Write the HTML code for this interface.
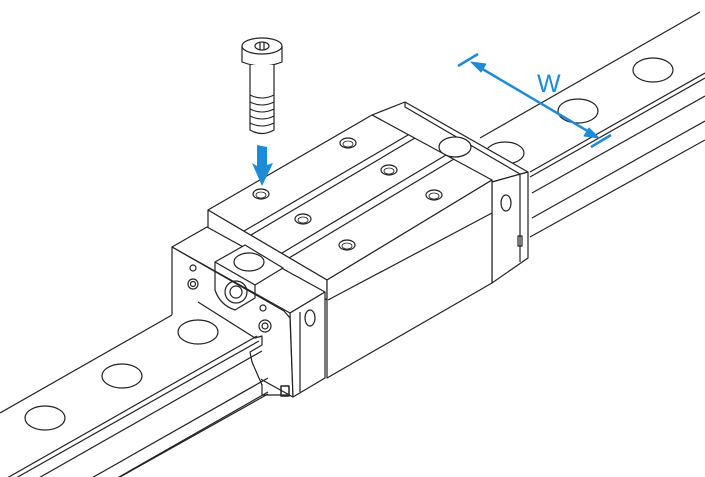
<!DOCTYPE html>
<html><head><meta charset="utf-8"><style>
html,body{margin:0;padding:0;background:#fff;width:705px;height:477px;overflow:hidden}
svg{display:block}
</style></head><body>
<svg width="705" height="477" viewBox="0 0 705 477" xmlns="http://www.w3.org/2000/svg" fill="none" stroke="#222" stroke-width="1.2" stroke-linejoin="round">
<!-- rail right part -->
<line x1="480" y1="138" x2="700" y2="12"/>
<line x1="530" y1="172" x2="705" y2="73"/>
<line x1="530" y1="177" x2="705" y2="78"/>
<line x1="532" y1="193" x2="705" y2="96"/>
<line x1="532" y1="218" x2="705" y2="121"/>
<line x1="530" y1="237" x2="705" y2="140"/>
<ellipse cx="578" cy="111" rx="20" ry="12"/>
<ellipse cx="653" cy="70" rx="20" ry="12"/>
<ellipse cx="505" cy="153" rx="19" ry="11"/>
<!-- back plate -->
<polygon fill="#fff" points="372,115 405,102 528,172 492,182"/>
<polygon fill="#fff" points="492,182 528,172 528,258 492,283"/>
<polyline points="405,102 405,107 520,174 520,262"/>
<ellipse cx="455" cy="147" rx="16" ry="10" fill="#fff"/>
<polygon fill="#fff" stroke="none" points="372,115 492,182 420,160"/>
<line x1="372" y1="115" x2="492" y2="182"/>
<ellipse cx="506" cy="203" rx="5" ry="8"/>
<rect x="518" y="236" width="4" height="10"/>
<!-- main body -->
<polygon fill="#fff" points="208,210 372,115 492,180 327,280"/>
<polygon fill="#fff" points="208,210 327,280 327,300 208,228"/>
<polygon fill="#fff" points="327,280 492,180 492,283 327,378"/>
<line x1="328" y1="300" x2="492" y2="213"/>
<line x1="244" y1="231" x2="408" y2="135"/>
<line x1="251" y1="235" x2="415" y2="138"/>
<line x1="282" y1="253" x2="446" y2="155"/>
<line x1="289" y1="258" x2="454" y2="159"/>
<g fill="#fff">
<ellipse cx="261" cy="194" rx="8" ry="5"/><ellipse cx="348" cy="143" rx="8" ry="5"/>
<ellipse cx="389" cy="170" rx="8" ry="5"/><ellipse cx="303" cy="219" rx="8" ry="5"/>
<ellipse cx="434" cy="195" rx="8" ry="5"/><ellipse cx="347" cy="245" rx="8" ry="5"/>
</g>
<g stroke-width="0.8">
<ellipse cx="261" cy="195" rx="5" ry="3"/><ellipse cx="348" cy="144" rx="5" ry="3"/>
<ellipse cx="389" cy="171" rx="5" ry="3"/><ellipse cx="303" cy="220" rx="5" ry="3"/>
<ellipse cx="434" cy="196" rx="5" ry="3"/><ellipse cx="347" cy="246" rx="5" ry="3"/>
</g>
<!-- end plate -->
<polygon fill="#fff" points="172,247 207,227 325,292 290,313"/>
<polygon fill="#fff" points="172,247 284,311 290,318 293,397 172,330"/>
<polygon fill="#fff" points="290,313 325,292 325,378 293,397"/>
<polyline points="300,312 300,392"/>
<polygon fill="#fff" points="215,262 245,245 283,268 255,285"/>
<ellipse cx="249" cy="262" rx="15" ry="9" fill="#fff"/>
<ellipse cx="310" cy="318" rx="5" ry="8"/>
<circle cx="193" cy="268" r="3"/>
<circle cx="193" cy="284" r="5"/><circle cx="193" cy="284" r="2.5"/>
<path d="M215 262 L215 290 Q220 305 235 310 L255 298 L255 285"/>
<circle cx="236" cy="292" r="11"/><circle cx="236" cy="292" r="6"/>
<circle cx="263" cy="308" r="3"/>
<circle cx="265" cy="326" r="6"/><circle cx="265" cy="326" r="3"/>
<!-- rail left part -->
<polygon fill="#fff" stroke="none" points="0,413 172,315 198,302 258,338 262,395 0,545"/>
<line x1="0" y1="413" x2="172" y2="315"/>
<line x1="0" y1="482" x2="257" y2="336"/>
<line x1="0" y1="487" x2="259" y2="341"/>
<line x1="0" y1="500" x2="262" y2="351"/>
<line x1="30" y1="513" x2="268" y2="378"/>
<line x1="70" y1="505" x2="268" y2="392"/>
<line x1="120" y1="477" x2="268" y2="394"/>
<polyline points="198,302 255,338 262,336 262,345 250,352 252,362 262,385 262,395 288,395"/>
<ellipse cx="45" cy="418" rx="20" ry="12"/>
<ellipse cx="122" cy="376" rx="20" ry="12"/>
<ellipse cx="198" cy="332" rx="20" ry="12"/>
<rect x="281" y="386" width="8" height="10" stroke-width="1.5"/>
<!-- screw -->
<path fill="#fff" d="M242 46 L242 62 Q262 70 282 62 L282 46"/>
<ellipse cx="262" cy="46" rx="20" ry="8" fill="#fff"/>
<ellipse cx="262" cy="46" rx="7" ry="4"/>
<line x1="260" y1="42" x2="260" y2="50"/><line x1="264" y1="42" x2="264" y2="50"/>
<path fill="#fff" d="M250 65 L250 130 Q262 137 274 130 L274 65"/>
<g stroke-width="1">
<path d="M250 95 Q262 101 274 95"/><path d="M250 102 Q262 108 274 102"/>
<path d="M250 109 Q262 115 274 109"/><path d="M250 116 Q262 122 274 116"/>
<path d="M250 123 Q262 129 274 123"/>
</g>
<!-- blue arrows -->
<polygon fill="#1f8ad6" stroke="none" points="257,145 267,147 267,165 273,163 262,186 252,163 257,166"/>
<g stroke="#1f8ad6" stroke-width="2.5" fill="#1f8ad6">
<line x1="474" y1="64" x2="596" y2="136"/>
<line x1="458" y1="66" x2="478" y2="54"/>
<line x1="591" y1="147" x2="611" y2="135"/>
<polygon stroke-width="1" points="471,62 486,64 481,72"/>
<polygon stroke-width="1" points="599,138 584,136 589,128"/>
</g>
<text x="537" y="92" font-family="Liberation Sans, sans-serif" font-size="25" fill="#1f8ad6" stroke="none">W</text>
</svg>
</body></html>
